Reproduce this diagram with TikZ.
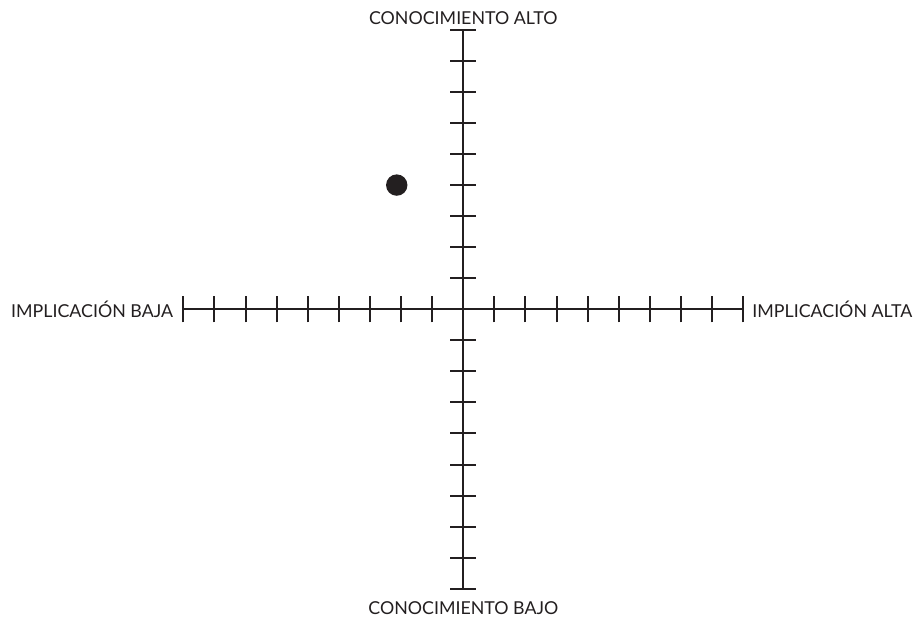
\documentclass[tikz,border=0pt]{standalone}
\usepackage{fontspec}
\setmainfont{Lato}
\usetikzlibrary{positioning}
\definecolor{cInk}{HTML}{231F20}
\tikzset{
  axis/.style={line width=1.6pt,color=cInk},
  tick/.style={line width=2pt,color=cInk},
  lbl/.style={font=\fontsize{17.8}{20}\selectfont,text=cInk,inner sep=0pt},
}

\begin{document}
\begin{tikzpicture}[x=31.1pt,y=31.05pt]
    \useasboundingbox (-463.3pt,-313.7pt) rectangle (455.7pt,309.3pt);
    % axis ends
    \coordinate (o) at (0,0);
    \coordinate (w) at (-9,0);
    \coordinate (e) at (9,0);
    \coordinate (n) at (0,9);
    \coordinate (s) at (0,-9);
    \draw[axis] (w) -- (e);
    \draw[axis] (s) -- (n);
    % ticks
    \foreach \i in {1,...,9} {
      \draw[tick] (\i,-13pt) -- (\i,13pt);
      \draw[tick] (-\i,-13pt) -- (-\i,13pt);
      \draw[tick] (-13pt,\i) -- (13pt,\i);
      \draw[tick] (-13pt,-\i) -- (13pt,-\i);
    }
    % labels
    \node[lbl,above=5.5pt of n] (hiK) {CONOCIMIENTO ALTO};
    \node[lbl,below=12.5pt of s] (loK) {CONOCIMIENTO BAJO};
    \node[lbl,left=10pt of w] (loI) {IMPLICACIÓN BAJA};
    \node[lbl,right=9pt of e] (hiI) {IMPLICACIÓN ALTA};
    % position
    \fill[cInk] (-2.14,4) circle (10.7pt);
  \end{tikzpicture}
\end{document}
